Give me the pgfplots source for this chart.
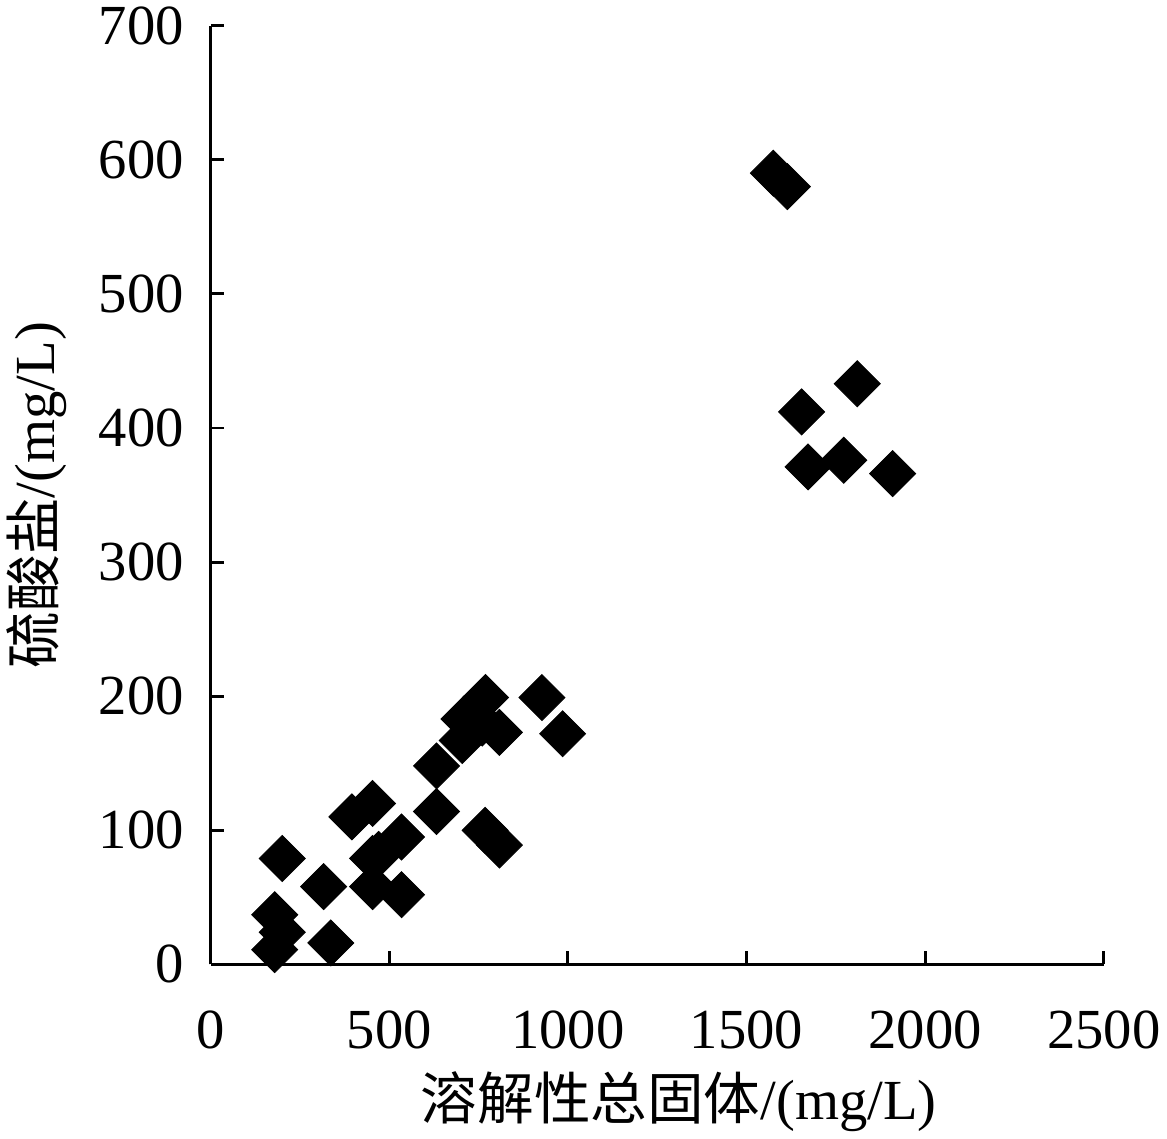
\documentclass[border=0pt]{standalone}
\usepackage{pgfplots}
\pgfplotsset{compat=1.18}
\usepackage{fontspec}
\setmainfont{Liberation Serif}
\newfontfamily\cjk{Noto Sans CJK SC}
\begin{document}
\begin{tikzpicture}
\begin{axis}[
  width=449.5pt, height=472.5pt, scale only axis,
  xmin=0, xmax=2500, ymin=0, ymax=700,
  axis lines*=left,
  axis line style={line width=1.5pt},
  xtick={0,500,1000,1500,2000,2500},
  ytick={0,100,200,300,400,500,600,700},
  tick style={line width=1.5pt, black},
  tick align=inside, major tick length=6.5pt,
  tick label style={font=\fontsize{28.5}{34}\selectfont},
  /pgf/number format/assume math mode=true,
  /pgf/number format/1000 sep={},
  xticklabel style={yshift=-20pt},
  yticklabel style={xshift=-10pt},
  xlabel={{\cjk 溶解性总固体}/(mg/L)},
  ylabel={{\cjk 硫酸盐}/(mg/L)},
  label style={font=\fontsize{28.5}{34}\selectfont},
  xlabel style={at={(axis description cs:0.524,-0.146)}, anchor=center},
  ylabel style={at={(axis description cs:-0.195,0.5)}, anchor=center},
  clip=false,
]
\addplot[only marks, mark=square*, mark size=8.2pt, mark options={rotate=45, fill=black, draw=black}] coordinates {
(1575,590) (1614,580)
(1810,433) (1654,412) (1672,371) (1772,376) (1909,366)
(927,199) (985,172)
(769,199) (740,186) (709,183) (704,167) (808,173) (760,180)
(632,148) (632,114)
(453,120) (395,110)
(534,95)
(768,100) (808,89)
(200,79)
(316,58)
(453,79) (453,58) (470,82) (534,52)
(179,37) (200,24) (179,11)
(336,16)
};
\end{axis}
\end{tikzpicture}
\end{document}
